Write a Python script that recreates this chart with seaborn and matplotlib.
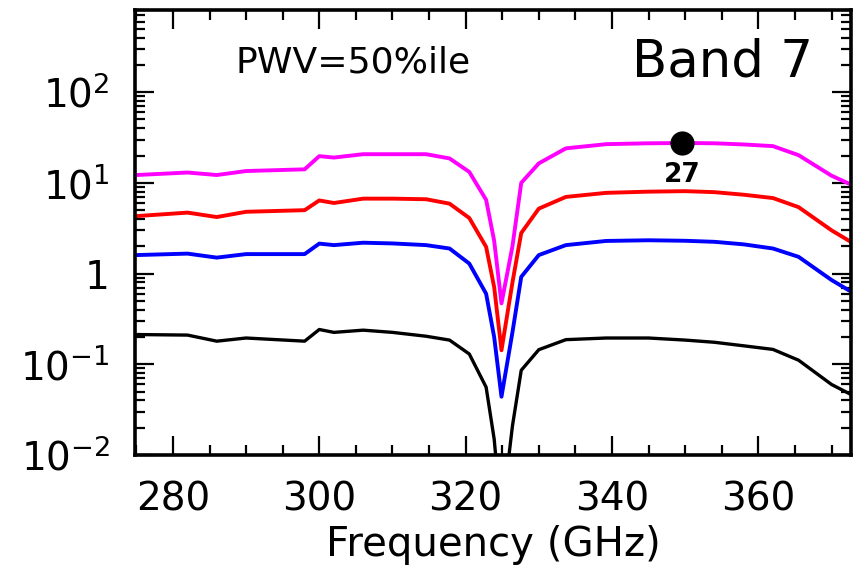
import numpy as np
import pandas as pd
import seaborn as sns
import matplotlib
matplotlib.use("Agg")
import matplotlib.pyplot as plt
from matplotlib.ticker import FixedLocator, FixedFormatter, MultipleLocator, LogLocator, NullFormatter

# ---- data ----
freq = [275, 282, 286, 290, 298, 300, 302, 306, 310, 314.6, 317.8, 320.5, 322.8,
        323.9, 324.9, 326.4, 327.6, 330, 333.7, 339.2, 345, 350, 354, 358, 362,
        365.5, 370, 373]

magenta_vals = [12.2, 13.0, 12.2, 13.5, 14.1, 19.7, 19.0, 20.7, 20.7, 20.7, 18.6, 13.2, 6.5,
                2.3, 0.47, 2.0, 10.0, 16.4, 24.0, 26.7, 27.3, 27.5, 27.3, 26.5, 25.4,
                20.2, 12.0, 9.3]
red_vals = [4.3, 4.7, 4.2, 4.8, 5.0, 6.4, 6.0, 6.7, 6.7, 6.6, 5.9, 4.1, 1.97,
            0.71, 0.143, 0.8, 2.8, 5.2, 7.0, 7.76, 8.0, 8.1, 7.9, 7.4, 6.8,
            5.4, 3.0, 2.15]
blue_vals = [1.6, 1.66, 1.5, 1.64, 1.64, 2.14, 2.06, 2.19, 2.15, 2.06, 1.89, 1.29, 0.60,
             0.20, 0.044, 0.226, 0.92, 1.6, 2.06, 2.29, 2.33, 2.3, 2.24, 2.1, 1.89,
             1.53, 0.85, 0.61]
black_vals = [0.213, 0.21, 0.18, 0.195, 0.18, 0.242, 0.225, 0.238, 0.225, 0.204, 0.185, 0.13, 0.056,
              0.015, 0.002, 0.021, 0.086, 0.145, 0.187, 0.195, 0.195, 0.185, 0.175, 0.16, 0.146,
              0.111, 0.06, 0.045]

series_names = ["magenta", "red", "blue", "black"]
series_colors = ["#ff00ff", "#ff0000", "#0000ff", "#000000"]

marker_freq = [349.6]
marker_val = [27.5]
marker_label = ["27"]

ytick_vals = [1e-2, 1e-1, 1, 1e1, 1e2]
ytick_labels = [r"$\mathregular{10^{-2}}$", r"$\mathregular{10^{-1}}$", "1",
                r"$\mathregular{10^{1}}$", r"$\mathregular{10^{2}}$"]
xtick_vals = [280, 300, 320, 340, 360]

# ---- build long-form table ----
frames = []
for name, vals in zip(series_names, [magenta_vals, red_vals, blue_vals, black_vals]):
    frames.append(pd.DataFrame({"freq": freq, "val": vals, "series": name}))
df = pd.concat(frames, ignore_index=True)

sns.set_style("ticks")
plt.rcParams["font.family"] = ["DejaVu Sans"]
plt.rcParams["text.color"] = "black"
plt.rcParams["axes.labelcolor"] = "black"
plt.rcParams["xtick.color"] = "black"
plt.rcParams["ytick.color"] = "black"
plt.rcParams["axes.edgecolor"] = "black"

fig = plt.figure(figsize=(8.59, 5.66), dpi=100)
ax = fig.add_axes([0.157, 0.196, 0.834, 0.786])

sns.lineplot(data=df, x="freq", y="val", hue="series", hue_order=series_names,
             palette=dict(zip(series_names, series_colors)), estimator=None, sort=False,
             linewidth=2.8, legend=False, ax=ax)
ax.lines[-1].set_linewidth(2.4)

sns.scatterplot(x=marker_freq, y=marker_val, color="black", s=260, ax=ax, zorder=5,
                edgecolor="black", legend=False)
for fx, fy, lab in zip(marker_freq, marker_val, marker_label):
    ax.annotate(lab, (fx, fy), xytext=(0, -14), textcoords="offset points",
                ha="center", va="top", fontsize=19, fontweight="bold", color="black")

ax.set_yscale("log")
ax.set_xlim(274.8, 372.7)
ax.set_ylim(1e-2, 8e2)

ax.xaxis.set_major_locator(FixedLocator(xtick_vals))
ax.xaxis.set_minor_locator(MultipleLocator(5))
ax.yaxis.set_major_locator(FixedLocator(ytick_vals))
ax.yaxis.set_major_formatter(FixedFormatter(ytick_labels))
ax.yaxis.set_minor_locator(LogLocator(base=10, subs=np.arange(2, 10), numticks=20))
ax.yaxis.set_minor_formatter(NullFormatter())

ax.tick_params(which="both", direction="in", top=True, right=True, width=1.6,
               color="black", labelcolor="black")
ax.tick_params(which="major", length=14, labelsize=28)
ax.tick_params(which="minor", length=7.5)
ax.tick_params(axis="x", which="major", pad=18)
ax.tick_params(axis="y", which="major", pad=18)

for sp in ax.spines.values():
    sp.set_linewidth(2.6)
    sp.set_color("black")

ax.set_xlabel("Frequency (GHz)", fontsize=29, labelpad=5, color="black")
ax.set_ylabel("")

ax.text(0.14, 0.883, "PWV=50%ile", transform=ax.transAxes, fontsize=26,
        ha="left", va="center", color="black")
ax.text(0.946, 0.883, "Band 7", transform=ax.transAxes, fontsize=37,
        ha="right", va="center", color="black")

fig.savefig("out.png", dpi=100)
